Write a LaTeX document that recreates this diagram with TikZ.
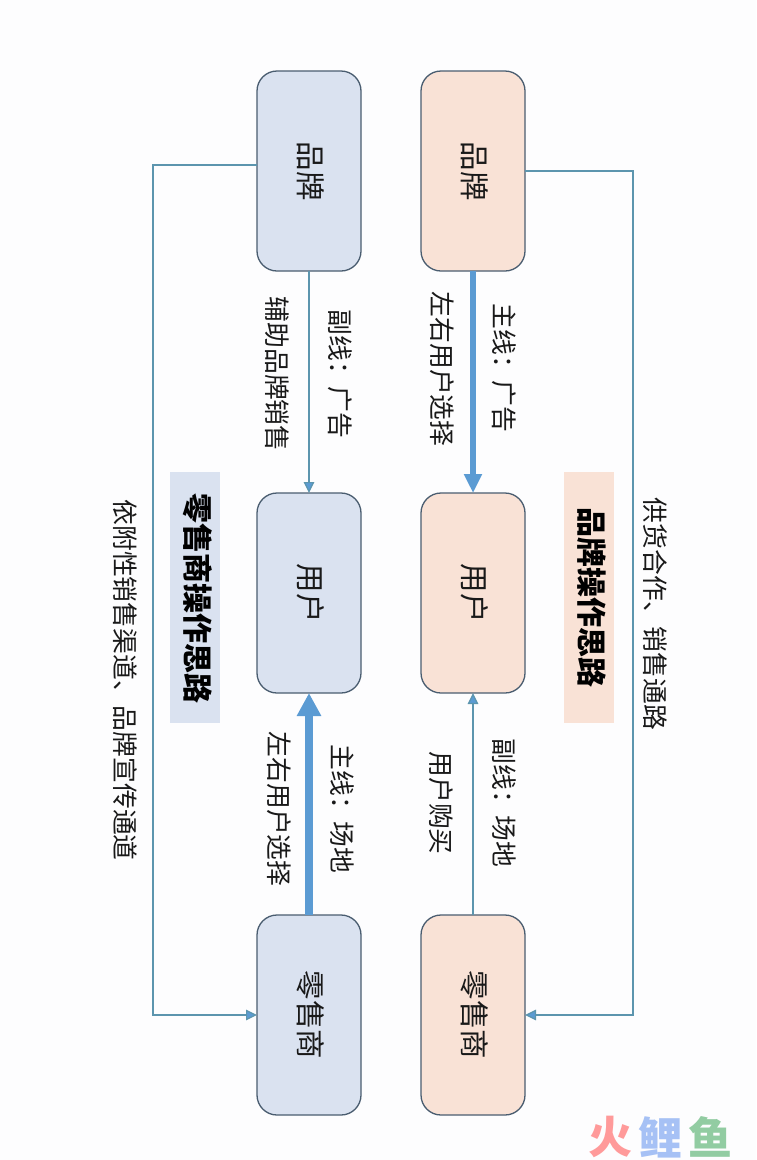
\documentclass[tikz,border=0pt]{standalone}
\usepackage{fontspec}
\setmainfont{Noto Sans CJK SC}
\usetikzlibrary{arrows.meta}
\definecolor{bgc}{HTML}{FDFDFE}
\definecolor{pinkf}{HTML}{F9E2D6}
\definecolor{bluef}{HTML}{DAE2F0}
\definecolor{edgec}{HTML}{4A5D70}
\definecolor{thinc}{HTML}{5C95AE}
\definecolor{thickc}{HTML}{5B9BD3}
\definecolor{wmred}{HTML}{FF9A9A}
\definecolor{wmblue}{HTML}{A6C1F5}
\definecolor{wmgreen}{HTML}{92CCA2}
\tikzset{
  card/.style={draw=edgec,line width=1.3pt,rounded corners=20pt,minimum width=200pt,minimum height=104pt,inner sep=0pt,outer sep=0pt,rotate=-90},
  cardtext/.style={rotate=-90,inner sep=0pt,font=\fontsize{29.5}{31}\selectfont,text=black!90},
  pinkcard/.style={card,fill=pinkf},
  bluecard/.style={card,fill=bluef},
  lbl/.style={rotate=-90,inner sep=0pt,font=\fontsize{25.8}{27}\selectfont,text=black!90},
  ttlband/.style={inner sep=0pt,outer sep=0pt,minimum width=50pt,minimum height=251pt},
  ttl/.style={rotate=-90,inner sep=0pt,font=\bfseries\fontsize{30}{32}\selectfont,text=black},
  thinline/.style={draw=thinc,line width=1.2pt},
  thinarrow/.style={thinline,-{Triangle[width=10.5pt,length=11pt,fill=thickc]}},
  thickarrow/.style={draw=thickc,line width=6.5pt,-{Triangle[width=17pt,length=19pt]}},
  thickerarrow/.style={draw=thickc,line width=8pt,-{Triangle[width=23pt,length=23pt]}},
  wm/.style={inner sep=0pt,font=\bfseries\fontsize{44}{46}\selectfont},
}
\begin{document}
\begin{tikzpicture}[x=1pt,y=-1pt]
\useasboundingbox (0,0) rectangle (756,1160);
\fill[bgc] (0,0) rectangle (756,1160);

% title bands
\node[ttlband,fill=pinkf] (trb) at (589,597.5) {};
\node[ttlband,fill=bluef] (tlb) at (195,597.5) {};
\node[ttl] (tr) at (592,597.5) {品牌操作思路};
\node[ttl] (tl) at (198,598.5) {零售商操作思路};

% cards
\node[pinkcard] (r1) at (473,171) {};
\node[pinkcard] (r2) at (473,593) {};
\node[pinkcard] (r3) at (473,1015) {};
\node[bluecard] (l1) at (309,171) {};
\node[bluecard] (l2) at (309,593) {};
\node[bluecard] (l3) at (309,1015) {};
\node[cardtext] (r1t) at (475,171) {品牌};
\node[cardtext] (r2t) at (475,593) {用户};
\node[cardtext] (r3t) at (475,1015) {零售商};
\node[cardtext] (l1t) at (311,171) {品牌};
\node[cardtext] (l2t) at (311,593) {用户};
\node[cardtext] (l3t) at (311,1015) {零售商};

% corner and start points of the long connectors
\coordinate (rc1) at (633,171);
\coordinate (rc2) at (633,1015);
\coordinate (ls) at (257,165);
\coordinate (lc1) at (153,165);
\coordinate (lc2) at (153,1015);

% connectors (rotated cards: east = bottom, west = top, north = right, south = left)
\draw[thickarrow] (r1.east) -- (r2.west);
\draw[thinarrow] (r3.west) -- (r2.east);
\draw[thinarrow] (l1.east) -- (l2.west);
\draw[thickerarrow] (l3.west) -- (l2.east);
\draw[thinarrow] (r1.north) -- (rc1) -- (rc2) -- (r3.north);
\draw[thinarrow] (ls) -- (lc1) -- (lc2) -- (l3.south);

% labels
\node[lbl] (a1) at (504,368) {主线：广告};
\node[lbl] (a2) at (442,369) {左右用户选择};
\node[lbl] (a3) at (504,803) {副线：场地};
\node[lbl] (a4) at (441,803) {用户购买};
\node[lbl] (a5) at (340,374) {副线：广告};
\node[lbl] (a6) at (277,374) {辅助品牌销售};
\node[lbl] (a7) at (342,809) {主线：场地};
\node[lbl] (a8) at (279,809) {左右用户选择};
\node[lbl] (a9) at (655,614) {供货合作、销售通路};
\node[lbl] (a10) at (125,680) {依附性销售渠道、品牌宣传通道};

% watermark
\node[wm,text=wmred] (w1) at (610,1137) {火};
\node[wm,text=wmblue] (w2) at (660,1137) {鲤};
\node[wm,text=wmgreen] (w3) at (710,1137) {鱼};
\end{tikzpicture}
\end{document}
